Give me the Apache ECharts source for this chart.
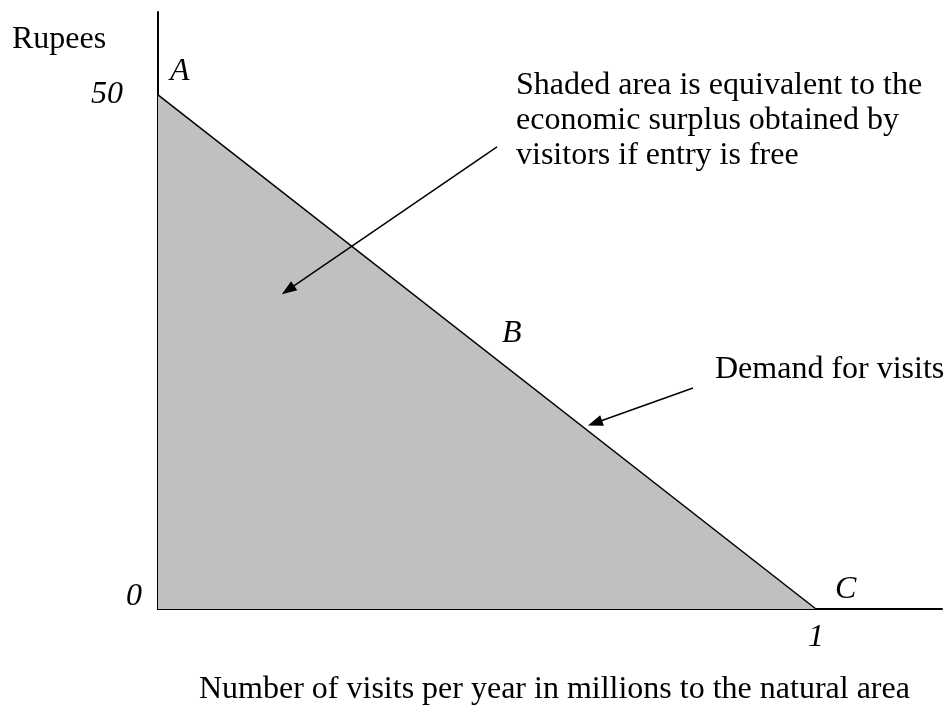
<!DOCTYPE html>
<html><head><meta charset="utf-8">
<script src="https://cdn.jsdelivr.net/npm/echarts@6/dist/echarts.min.js"></script>
<style>html,body{margin:0;padding:0;background:#fff}#c{width:947px;height:706px}</style>
</head><body><div id="c"></div>
<script>
const demandX = [0, 1];
const demandY = [50, 0];
const yTicks = [0, 50];
const xTickLabel = '1';
const pointLabels = ['A', 'B', 'C'];
const xTitle = 'Number of visits per year in millions to the natural area';
const yTitle = 'Rupees';
const noteShaded = 'Shaded area is equivalent to the\neconomic surplus obtained by\nvisitors if entry is free';
const noteDemand = 'Demand for visits';

const FONT = '"Liberation Serif", "Times New Roman", serif';
const FS = 32;
const chart = echarts.init(document.getElementById('c'));
const data = demandX.map((x, i) => [x, demandY[i]]);

chart.setOption({
  animation: false,
  grid: { left: 158, right: 5, top: 12, bottom: 97 },
  xAxis: {
    type: 'value', min: 0, max: 1.1915, interval: 1,
    axisLine: { show: true, onZero: false, lineStyle: { color: '#000', width: 2 } },
    axisTick: { show: false }, splitLine: { show: false },
    axisLabel: { show: true, margin: 13, fontFamily: FONT, fontSize: FS, fontStyle: 'italic', color: '#000',
      showMinLabel: false, showMaxLabel: false,
      formatter: v => (v === 1 ? xTickLabel : '') }
  },
  yAxis: {
    type: 'value', min: 0, max: 58.07, interval: 50,
    axisLine: { show: true, onZero: false, lineStyle: { color: '#000', width: 2 } },
    axisTick: { show: false }, splitLine: { show: false },
    axisLabel: { show: true, margin: 35, fontFamily: FONT, fontSize: FS, fontStyle: 'italic', color: '#000',
      showMinLabel: false, showMaxLabel: false,
      formatter: v => (v === yTicks[1] ? String(v) : '') }
  },
  series: [{
    type: 'line', data: data, symbol: 'none',
    lineStyle: { color: '#000', width: 1.5 },
    areaStyle: { color: '#c0c0c0', opacity: 1 },
    markLine: {
      silent: true, symbol: ['none', 'triangle'], symbolSize: [11, 15],
      label: { show: false },
      lineStyle: { color: '#000', width: 1.5, type: 'solid' },
      data: [
        [{ coord: [0.5152, 44.94] }, { coord: [0.1976, 31.03] }],
        [{ coord: [0.8131, 21.50] }, { coord: [0.6641, 18.09] }]
      ]
    }
  }]
});

const tStyle = (extra) => Object.assign({ fontFamily: FONT, fontSize: FS, fill: '#000', verticalAlign: 'middle' }, extra);
chart.setOption({
  graphic: [
    { type: 'text', x: 12, y: 40, style: tStyle({ text: yTitle }) },
    { type: 'text', x: 126, y: 597, style: tStyle({ text: String(yTicks[0]), fontStyle: 'italic' }) },
    { type: 'text', x: 170, y: 72, style: tStyle({ text: pointLabels[0], fontStyle: 'italic' }) },
    { type: 'text', x: 502, y: 334, style: tStyle({ text: pointLabels[1], fontStyle: 'italic' }) },
    { type: 'text', x: 835, y: 590, style: tStyle({ text: pointLabels[2], fontStyle: 'italic' }) },
    { type: 'text', x: 516, y: 68, style: tStyle({ text: noteShaded, lineHeight: 35, verticalAlign: 'top' }) },
    { type: 'text', x: 715, y: 370, style: tStyle({ text: noteDemand }) },
    { type: 'text', x: 199, y: 690, style: tStyle({ text: xTitle }) }
  ]
});
</script></body></html>
